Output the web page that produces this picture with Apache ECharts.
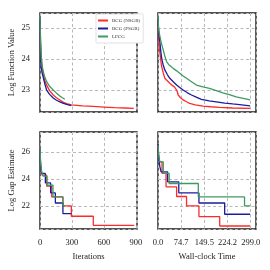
<!DOCTYPE html>
<html>
<head>
<meta charset="utf-8">
<script src="https://cdn.jsdelivr.net/npm/echarts@6/dist/echarts.min.js"></script>
<style>html,body{margin:0;padding:0;background:#fff}#c{width:270px;height:270px}</style>
</head>
<body>
<div id="c"></div>
<script>
// ---- data ----
const seriesNames = ['BCG (NSGB)', 'BCG (PSGB)', 'LPCG'];
const iterTicks = ['0', '300', '600', '900'];
const timeTickValues = [0, 74.75, 149.5, 224.25, 299];
const timeTickLabels = ['0.0', '74.7', '149.5', '224.2', '299.0'];

// Top-left: Log Function Value vs Iterations
const fvIterRed = [[0,25.35],[5,24.6],[10,24.1],[20,23.72],[31,23.5],[45,23.3],[62,23.16],[90,22.98],[124,22.84],[155,22.75],[186,22.68],[220,22.6],[250,22.56],[295,22.52],[400,22.49],[500,22.47],[600,22.45],[700,22.43],[800,22.42],[880,22.41]];
const fvIterBlue = [[0,25.3],[3,24.7],[6,24.2],[10,23.75],[20,23.55],[31,23.4],[45,23.2],[62,23.0],[90,22.86],[124,22.74],[155,22.67],[186,22.62],[220,22.57],[250,22.54],[293,22.5]];
const fvIterGreen = [[0,25.4],[3,24.9],[6,24.5],[10,24.15],[20,23.8],[31,23.59],[45,23.42],[62,23.27],[90,23.12],[124,23.0],[155,22.9],[186,22.81],[210,22.75],[233,22.7]];

// Top-right: Log Function Value vs Wall-clock Time
const fvTimeRed = [[0,25.3],[2,24.7],[4,24.35],[6.4,24.18],[9,23.95],[12,23.75],[17,23.55],[22,23.38],[30,23.3],[38,23.22],[46,23.15],[54,23.09],[58,23.06],[60,23.0],[62,22.98],[63,22.92],[65,22.84],[72,22.76],[81,22.68],[92,22.62],[102,22.57],[120,22.52],[145,22.48],[170,22.46],[198,22.44],[240,22.42],[297,22.41]];
const fvTimeBlue = [[0,25.3],[2,24.9],[4,24.7],[6.4,24.52],[9,24.25],[12,24.02],[17,23.8],[22,23.65],[30,23.5],[38,23.38],[50,23.26],[60,23.16],[70,23.08],[81,23.0],[95,22.91],[108,22.84],[125,22.76],[140,22.7],[165,22.65],[188,22.62],[215,22.58],[241,22.55],[270,22.52],[297,22.49]];
const fvTimeGreen = [[0,25.4],[2,25.0],[4,24.85],[6.4,24.73],[10,24.55],[17,24.29],[22,24.1],[28,23.91],[35,23.82],[42,23.76],[49,23.7],[60,23.62],[70,23.54],[80,23.46],[92,23.38],[108,23.27],[124,23.16],[145,23.1],[166,23.05],[188,22.98],[209,22.91],[230,22.85],[252,22.78],[275,22.73],[297,22.68]];

// Bottom-left: Log Gap Estimate vs Iterations (steps)
const gapIterRed = [[0,26.4],[3,25.5],[7,24.9],[12,24.5],[20,24.27],[62,23.46],[110,22.67],[215,22.0],[294,21.24],[500,20.57],[884,20.57]];
const gapIterBlue = [[0,26.3],[3,25.4],[7,24.8],[12,24.4],[50,23.7],[100,22.96],[144,22.22],[215,21.44],[294,21.44]];
const gapIterGreen = [[0,26.4],[3,25.7],[7,25.1],[14,24.6],[28,24.2],[66,23.53],[122,22.67],[215,22.0],[233,22.0]];

// Bottom-right: Log Gap Estimate vs Wall-clock Time (steps)
const gapTimeRed = [[0,26.6],[1,25.9],[4,25.26],[13,24.4],[26,23.41],[60,22.7],[92,22.0],[132,21.22],[199,20.52],[297,20.52]];
const gapTimeBlue = [[0,26.6],[1,26.0],[3,25.4],[6,24.9],[10,24.52],[31,23.78],[67,22.96],[132,22.22],[215,21.39],[297,21.39]];
const gapTimeGreen = [[0,26.5],[1,26.2],[3,25.6],[6,25.26],[17,24.4],[36,23.66],[130,22.67],[279,22.0],[297,22.0]];

// ---- styling ----
const colors = ['#ff2a2a', '#1c1c9c', '#3f9a62'];
const FONT = 'Liberation Serif';
const split = {show: true, lineStyle: {color: '#b8b8b8', width: 1, type: [3, 2.5]}};

function xAxisCfg(gi, max, interval, labels, name, fmtFn) {
  return {
    type: 'value', gridIndex: gi, min: 0, max: max, interval: interval,
    axisLine: {show: false}, axisTick: {show: false}, splitLine: split,
    axisLabel: {show: labels, fontFamily: FONT, fontSize: 8.5, color: '#222', margin: 9,
      showMaxLabel: false, formatter: fmtFn},
    name: name, nameLocation: 'middle', nameGap: 23,
    nameTextStyle: {fontFamily: FONT, fontSize: 8.5, color: '#222'}
  };
}
const iterFmt = v => { const i = [0,300,600,900].indexOf(Math.round(v)); return (Math.abs(v - Math.round(v)) < 1e-6 && i >= 0) ? iterTicks[i] : ''; };
const timeFmt = v => { for (let i = 0; i < timeTickValues.length; i++) if (Math.abs(v - timeTickValues[i]) < 1e-6) return timeTickLabels[i]; return ''; };
const intFmt = v => (Math.abs(v - Math.round(v)) < 1e-6 ? String(Math.round(v)) : '');

function yAxisCfg(gi, min, max, split_n, labels, name) {
  return {
    type: 'value', gridIndex: gi, min: min, max: max, splitNumber: split_n,
    axisLine: {show: false}, axisTick: {show: false}, splitLine: split,
    axisLabel: {show: labels, fontFamily: FONT, fontSize: 8.5, color: '#222', margin: 10,
      showMinLabel: false, showMaxLabel: false, formatter: intFmt},
    name: name, nameLocation: 'middle', nameGap: 24,
    nameTextStyle: {fontFamily: FONT, fontSize: 8.5, color: '#222'}
  };
}

function mk(name, data, ci, xi, step) {
  return {
    name: name, type: 'line', xAxisIndex: xi, yAxisIndex: xi, data: data,
    showSymbol: false, symbol: 'none', step: step ? 'end' : false,
    lineStyle: {color: colors[ci], width: 1.3}, itemStyle: {color: colors[ci]},
    animation: false, silent: true
  };
}

const gridBase = {show: true, borderColor: '#1a1a1a', borderWidth: 1.4, backgroundColor: 'transparent', containLabel: false};
const option = {
  animation: false,
  textStyle: {fontFamily: FONT},
  grid: [
    Object.assign({left: 40, top: 13, width: 97, height: 99}, gridBase),
    Object.assign({left: 158, top: 13, width: 98, height: 99}, gridBase),
    Object.assign({left: 40, top: 132, width: 97, height: 97}, gridBase),
    Object.assign({left: 158, top: 132, width: 98, height: 97}, gridBase)
  ],
  xAxis: [
    xAxisCfg(0, 910, 300, false, '', iterFmt),
    xAxisCfg(1, 316, 74.75, false, '', timeFmt),
    xAxisCfg(2, 910, 300, true, 'Iterations', iterFmt),
    xAxisCfg(3, 316, 74.75, true, 'Wall-clock Time', timeFmt)
  ],
  yAxis: [
    yAxisCfg(0, 22.29, 25.49, 3, true, 'Log Function Value'),
    yAxisCfg(1, 22.29, 25.49, 3, false, ''),
    yAxisCfg(2, 20.3, 27.46, 3, true, 'Log Gap Estimate'),
    yAxisCfg(3, 20.3, 27.46, 3, false, '')
  ],
  legend: {
    data: seriesNames, left: 96, top: 14, orient: 'vertical',
    itemWidth: 10, itemHeight: 2, itemGap: 3, icon: 'rect',
    padding: [4, 3, 4, 2], backgroundColor: '#fff', borderColor: '#cfcfcf', borderWidth: 0.6, borderRadius: 1,
    textStyle: {fontFamily: FONT, fontSize: 5, color: '#333', padding: [0, 0, 0, -1]}
  },
  series: [
    mk(seriesNames[0], fvIterRed, 0, 0, false),
    mk(seriesNames[1], fvIterBlue, 1, 0, false),
    mk(seriesNames[2], fvIterGreen, 2, 0, false),
    mk(seriesNames[0], fvTimeRed, 0, 1, false),
    mk(seriesNames[1], fvTimeBlue, 1, 1, false),
    mk(seriesNames[2], fvTimeGreen, 2, 1, false),
    mk(seriesNames[0], gapIterRed, 0, 2, true),
    mk(seriesNames[1], gapIterBlue, 1, 2, true),
    mk(seriesNames[2], gapIterGreen, 2, 2, true),
    mk(seriesNames[0], gapTimeRed, 0, 3, true),
    mk(seriesNames[1], gapTimeBlue, 1, 3, true),
    mk(seriesNames[2], gapTimeGreen, 2, 3, true)
  ]
};
const chart = echarts.init(document.getElementById('c'), null, {renderer: 'canvas'});
chart.setOption(option);
</script>
</body>
</html>
